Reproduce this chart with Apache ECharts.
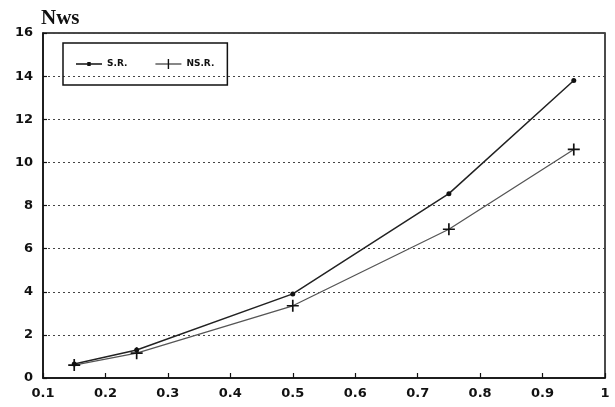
<!DOCTYPE html>
<html><head><meta charset="utf-8">
<script src="https://cdn.jsdelivr.net/npm/echarts@6/dist/echarts.min.js"></script>
<style>html,body{margin:0;padding:0;background:#fff}#c{width:615px;height:407px}</style>
</head><body><div id="c"></div>
<script>
const xValues = [0.15, 0.25, 0.5, 0.75, 0.95];
const srValues = [0.65, 1.3, 3.9, 8.55, 13.8];
const nsrValues = [0.6, 1.15, 3.35, 6.9, 10.6];
const seriesNames = ['S.R.', 'NS.R.'];
const yTitle = 'Nws';

const plusPath = 'path://M0,4.3H10V5.7H0Z M4.3,0H5.7V10H4.3Z';
const legendSR = 'path://M0,4.3H26V5.7H0Z M11.3,3H14.7V7H11.3Z';
const legendNSR = 'path://M0,4.5H26V5.5H0Z M12.3,0H13.7V10H12.3Z';
const chart = echarts.init(document.getElementById('c'));
const lab = {fontFamily: 'DejaVu Sans', fontWeight: 'bold', fontSize: 13, color: '#111'};
chart.setOption({
  animation: false,
  backgroundColor: '#fff',
  title: {text: yTitle, left: 36, top: 3, textStyle: {fontFamily: 'Liberation Serif', fontWeight: 'bold', fontSize: 21, color: '#111'}},
  grid: {left: 43, right: 10, top: 33, bottom: 29, show: true, borderColor: '#111', borderWidth: 1.5, backgroundColor: '#fff'},
  legend: {
    left: 63, top: 43, orient: 'horizontal',
    borderColor: '#111', borderWidth: 1.5, padding: [16, 13],
    itemWidth: 26, itemHeight: 10, itemGap: 28,
    textStyle: {fontFamily: 'DejaVu Sans', fontWeight: 'bold', fontSize: 9, color: '#111'},
    data: [{name: seriesNames[0], icon: legendSR}, {name: seriesNames[1], icon: legendNSR}]
  },
  xAxis: {
    type: 'value', min: 0.1, max: 1, interval: 0.1,
    axisLine: {lineStyle: {color: '#111', width: 1.5}},
    axisTick: {inside: true, length: 5, lineStyle: {color: '#111', width: 1.2}},
    axisLabel: Object.assign({margin: 9, formatter: v => String(Math.round(v * 10) / 10)}, lab),
    splitLine: {show: false}
  },
  yAxis: {
    type: 'value', min: 0, max: 16, interval: 2,
    axisLine: {show: true, lineStyle: {color: '#111', width: 1.5}},
    axisTick: {show: true, inside: true, length: 4, lineStyle: {color: '#111', width: 1.2}},
    axisLabel: Object.assign({margin: 10}, lab),
    splitLine: {show: true, lineStyle: {color: '#444', type: [2, 3], width: 1}}
  },
  series: [
    {name: seriesNames[0], type: 'line', data: xValues.map((x, i) => [x, srValues[i]]),
     symbol: 'circle', symbolSize: 5, lineStyle: {color: '#222', width: 1.5},
     itemStyle: {color: '#111'}},
    {name: seriesNames[1], type: 'line', data: xValues.map((x, i) => [x, nsrValues[i]]),
     symbol: plusPath, symbolSize: 12, lineStyle: {color: '#555', width: 1.3},
     itemStyle: {color: '#111'}}
  ]
});
</script></body></html>
